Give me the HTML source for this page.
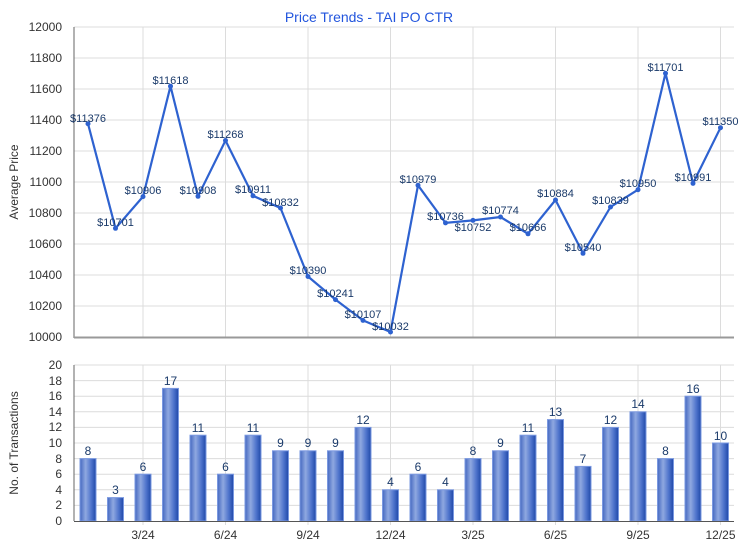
<!DOCTYPE html>
<html><head><meta charset="utf-8"><style>
body{margin:0;background:#fff;}
svg{display:block;font-family:"Liberation Sans",sans-serif;}
</style></head><body>
<svg width="740" height="550" viewBox="0 0 740 550">
<defs>
<linearGradient id="bg" x1="0" x2="1" y1="0" y2="0">
<stop offset="0" stop-color="#4468c0"/><stop offset="0.35" stop-color="#8fa8e0"/><stop offset="0.7" stop-color="#4f74cc"/><stop offset="1" stop-color="#1f48a8"/>
</linearGradient>
</defs>
<text x="369" y="22" text-anchor="middle" font-size="14" fill="#2255dd">Price Trends - TAI PO CTR</text>
<g stroke="#dcdcdc" stroke-width="1">
<line x1="74" x2="734" y1="27" y2="27"/><line x1="74" x2="734" y1="58" y2="58"/><line x1="74" x2="734" y1="89" y2="89"/><line x1="74" x2="734" y1="120" y2="120"/><line x1="74" x2="734" y1="151" y2="151"/><line x1="74" x2="734" y1="182" y2="182"/><line x1="74" x2="734" y1="213" y2="213"/><line x1="74" x2="734" y1="244" y2="244"/><line x1="74" x2="734" y1="275" y2="275"/><line x1="74" x2="734" y1="306" y2="306"/>
<line x1="143" x2="143" y1="27" y2="337"/><line x1="225.5" x2="225.5" y1="27" y2="337"/><line x1="308" x2="308" y1="27" y2="337"/><line x1="390.5" x2="390.5" y1="27" y2="337"/><line x1="473" x2="473" y1="27" y2="337"/><line x1="555.5" x2="555.5" y1="27" y2="337"/><line x1="638" x2="638" y1="27" y2="337"/><line x1="720.5" x2="720.5" y1="27" y2="337"/>
</g>
<line x1="74" x2="74" y1="27" y2="338" stroke="#666"/>
<line x1="74" x2="734" y1="337.5" y2="337.5" stroke="#999" stroke-width="2"/>
<g font-size="12" fill="#333" text-anchor="end">
<text x="62" y="31">12000</text><text x="62" y="62">11800</text><text x="62" y="93">11600</text><text x="62" y="124">11400</text><text x="62" y="155">11200</text><text x="62" y="186">11000</text><text x="62" y="217">10800</text><text x="62" y="248">10600</text><text x="62" y="279">10400</text><text x="62" y="310">10200</text><text x="62" y="341">10000</text>
</g>
<text transform="translate(18,182) rotate(-90)" text-anchor="middle" font-size="12" fill="#333">Average Price</text>
<polyline fill="none" stroke="#2e62d0" stroke-width="2.2" stroke-linejoin="round" points="88,123.7 115.5,228.3 143,196.6 170.5,86.2 198,196.3 225.5,140.5 253,195.8 280.5,208 308,276.5 335.5,299.6 363,320.4 390.5,332 418,185.3 445.5,222.9 473,220.4 500.5,217 528,233.8 555.5,200 583,253.3 610.5,207 638,189.7 665.5,73.3 693,183.4 720.5,127.7"/>
<g fill="#2e62d0">
<circle cx="88" cy="123.7" r="2.5"/><circle cx="115.5" cy="228.3" r="2.5"/><circle cx="143" cy="196.6" r="2.5"/><circle cx="170.5" cy="86.2" r="2.5"/><circle cx="198" cy="196.3" r="2.5"/><circle cx="225.5" cy="140.5" r="2.5"/><circle cx="253" cy="195.8" r="2.5"/><circle cx="280.5" cy="208" r="2.5"/><circle cx="308" cy="276.5" r="2.5"/><circle cx="335.5" cy="299.6" r="2.5"/><circle cx="363" cy="320.4" r="2.5"/><circle cx="390.5" cy="332" r="2.5"/><circle cx="418" cy="185.3" r="2.5"/><circle cx="445.5" cy="222.9" r="2.5"/><circle cx="473" cy="220.4" r="2.5"/><circle cx="500.5" cy="217" r="2.5"/><circle cx="528" cy="233.8" r="2.5"/><circle cx="555.5" cy="200" r="2.5"/><circle cx="583" cy="253.3" r="2.5"/><circle cx="610.5" cy="207" r="2.5"/><circle cx="638" cy="189.7" r="2.5"/><circle cx="665.5" cy="73.3" r="2.5"/><circle cx="693" cy="183.4" r="2.5"/><circle cx="720.5" cy="127.7" r="2.5"/>
</g>
<g font-size="11" fill="#1a3a6a" text-anchor="middle">
<text x="88" y="122">$11376</text><text x="115.5" y="226">$10701</text><text x="143" y="194">$10906</text><text x="170.5" y="84">$11618</text><text x="198" y="194">$10908</text><text x="225.5" y="138">$11268</text><text x="253" y="193">$10911</text><text x="280.5" y="206">$10832</text><text x="308" y="274">$10390</text><text x="335.5" y="297">$10241</text><text x="363" y="318">$10107</text><text x="390.5" y="330">$10032</text><text x="418" y="183">$10979</text><text x="445.5" y="220">$10736</text><text x="473" y="231">$10752</text><text x="500.5" y="214">$10774</text><text x="528" y="231">$10666</text><text x="555.5" y="197">$10884</text><text x="583" y="251">$10540</text><text x="610.5" y="204">$10839</text><text x="638" y="187">$10950</text><text x="665.5" y="71">$11701</text><text x="693" y="181">$10991</text><text x="720.5" y="125">$11350</text>
</g>
<g stroke="#dcdcdc" stroke-width="1">
<line x1="74" x2="734" y1="365" y2="365"/><line x1="74" x2="734" y1="380.6" y2="380.6"/><line x1="74" x2="734" y1="396.2" y2="396.2"/><line x1="74" x2="734" y1="411.8" y2="411.8"/><line x1="74" x2="734" y1="427.4" y2="427.4"/><line x1="74" x2="734" y1="443" y2="443"/><line x1="74" x2="734" y1="458.6" y2="458.6"/><line x1="74" x2="734" y1="474.2" y2="474.2"/><line x1="74" x2="734" y1="489.8" y2="489.8"/><line x1="74" x2="734" y1="505.4" y2="505.4"/>
<line x1="143" x2="143" y1="365" y2="525"/><line x1="225.5" x2="225.5" y1="365" y2="525"/><line x1="308" x2="308" y1="365" y2="525"/><line x1="390.5" x2="390.5" y1="365" y2="525"/><line x1="473" x2="473" y1="365" y2="525"/><line x1="555.5" x2="555.5" y1="365" y2="525"/><line x1="638" x2="638" y1="365" y2="525"/><line x1="720.5" x2="720.5" y1="365" y2="525"/>
</g>
<line x1="74" x2="74" y1="365" y2="521" stroke="#666"/>
<g font-size="12" fill="#333" text-anchor="end">
<text x="62" y="369">20</text><text x="62" y="385">18</text><text x="62" y="400">16</text><text x="62" y="416">14</text><text x="62" y="431">12</text><text x="62" y="447">10</text><text x="62" y="463">8</text><text x="62" y="478">6</text><text x="62" y="494">4</text><text x="62" y="509">2</text><text x="62" y="525">0</text>
</g>
<text transform="translate(18,443) rotate(-90)" text-anchor="middle" font-size="12" fill="#333">No. of Transactions</text>
<g fill="url(#bg)" stroke="#7a98e0" stroke-width="1">
<rect x="80" y="458.6" width="16" height="62.4"/><rect x="107.5" y="497.6" width="16" height="23.4"/><rect x="135" y="474.2" width="16" height="46.8"/><rect x="162.5" y="388.4" width="16" height="132.6"/><rect x="190" y="435.2" width="16" height="85.8"/><rect x="217.5" y="474.2" width="16" height="46.8"/><rect x="245" y="435.2" width="16" height="85.8"/><rect x="272.5" y="450.8" width="16" height="70.2"/><rect x="300" y="450.8" width="16" height="70.2"/><rect x="327.5" y="450.8" width="16" height="70.2"/><rect x="355" y="427.4" width="16" height="93.6"/><rect x="382.5" y="489.8" width="16" height="31.2"/><rect x="410" y="474.2" width="16" height="46.8"/><rect x="437.5" y="489.8" width="16" height="31.2"/><rect x="465" y="458.6" width="16" height="62.4"/><rect x="492.5" y="450.8" width="16" height="70.2"/><rect x="520" y="435.2" width="16" height="85.8"/><rect x="547.5" y="419.6" width="16" height="101.4"/><rect x="575" y="466.4" width="16" height="54.6"/><rect x="602.5" y="427.4" width="16" height="93.6"/><rect x="630" y="411.8" width="16" height="109.2"/><rect x="657.5" y="458.6" width="16" height="62.4"/><rect x="685" y="396.2" width="16" height="124.8"/><rect x="712.5" y="443" width="16" height="78"/>
</g>
<line x1="74" x2="734" y1="521.5" y2="521.5" stroke="#555"/>
<g font-size="12" fill="#1a3a6a" text-anchor="middle">
<text x="88" y="455">8</text><text x="115.5" y="494">3</text><text x="143" y="471">6</text><text x="170.5" y="385">17</text><text x="198" y="432">11</text><text x="225.5" y="471">6</text><text x="253" y="432">11</text><text x="280.5" y="447">9</text><text x="308" y="447">9</text><text x="335.5" y="447">9</text><text x="363" y="424">12</text><text x="390.5" y="486">4</text><text x="418" y="471">6</text><text x="445.5" y="486">4</text><text x="473" y="455">8</text><text x="500.5" y="447">9</text><text x="528" y="432">11</text><text x="555.5" y="416">13</text><text x="583" y="463">7</text><text x="610.5" y="424">12</text><text x="638" y="408">14</text><text x="665.5" y="455">8</text><text x="693" y="393">16</text><text x="720.5" y="440">10</text>
</g>
<g font-size="12" fill="#333" text-anchor="middle">
<text x="143" y="539">3/24</text><text x="225.5" y="539">6/24</text><text x="308" y="539">9/24</text><text x="390.5" y="539">12/24</text><text x="473" y="539">3/25</text><text x="555.5" y="539">6/25</text><text x="638" y="539">9/25</text><text x="720.5" y="539">12/25</text>
</g>
</svg>
</body></html>
